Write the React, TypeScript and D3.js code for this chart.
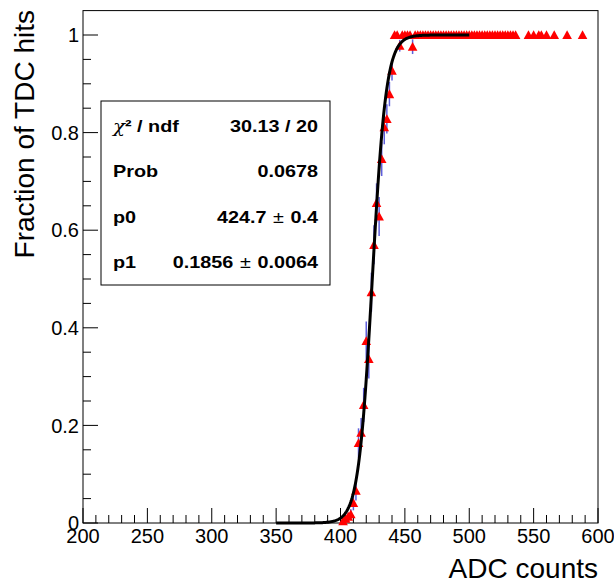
import React from "react";
import * as d3 from "d3";

// ---- data ----
const adcValues = [
  402, 404, 406, 408, 410, 412, 414, 416, 418, 420, 422, 424, 426, 428, 430, 432, 434, 436, 438, 440,
  442, 444, 446, 448, 450, 452, 454, 456, 458, 460, 462, 464, 466, 468, 470, 472, 474, 476, 478, 480,
  482, 484, 486, 488, 490, 492, 494, 496, 498, 500, 502, 504, 506, 508, 510, 512, 514, 516, 518, 520,
  522, 524, 526, 528, 530, 532, 534, 536, 546, 550, 554, 556, 560, 566, 576, 588,
];
const fraction = [
  0.004, 0.009, 0.013, 0.018, 0.041, 0.066, 0.164, 0.185, 0.242, 0.373, 0.336, 0.473, 0.57, 0.656, 0.628, 0.746, 0.811, 0.828, 0.879, 0.927,
  1, 1, 0.978, 1, 1, 1, 1, 0.976, 1, 1, 1, 1, 1, 1, 1, 1, 1, 1, 1, 1,
  1, 1, 1, 1, 1, 1, 1, 1, 1, 1, 1, 1, 1, 1, 1, 1, 1, 1, 1, 1,
  1, 1, 1, 1, 1, 1, 1, 1, 1, 1, 1, 1, 1, 1, 1, 1,
];
const fractionErr = [
  0.004, 0.006, 0.008, 0.01, 0.015, 0.02, 0.03, 0.03, 0.035, 0.04, 0.04, 0.04, 0.04, 0.04, 0.04, 0.035, 0.035, 0.03, 0.025, 0.02,
  0, 0, 0.012, 0, 0, 0, 0, 0.015, 0, 0, 0, 0, 0, 0, 0, 0, 0, 0, 0, 0,
  0, 0, 0, 0, 0, 0, 0, 0, 0, 0, 0, 0, 0, 0, 0, 0, 0, 0, 0, 0,
  0, 0, 0, 0, 0, 0, 0, 0, 0, 0, 0, 0, 0, 0, 0, 0,
];

// fit parameters
const p0 = 424.7;
const p1 = 0.1856;
const fitRange = [350, 500];

const xTickLabels = ["200", "250", "300", "350", "400", "450", "500", "550", "600"];
const yTickLabels = ["0", "0.2", "0.4", "0.6", "0.8", "1"];

const statsRows = [
  { label: "chi", value: "30.13 / 20" },
  { label: "Prob", value: "0.0678" },
  { label: "p0", value: "424.7", err: "0.4" },
  { label: "p1", value: "0.1856", err: "0.0064" },
];

export default function App() {
  const W = 614, H = 584;
  const left = 83, right = 598, bottom = 523;
  const yMax = 1.05;
  const x = d3.scaleLinear().domain([200, 600]).range([left, right]);
  const y = d3.scaleLinear().domain([0, yMax]).range([bottom, bottom - yMax * 488]);
  const top = y(yMax);

  const majorX = d3.range(200, 601, 50);
  const minorX = d3.range(200, 601, 10).filter((v) => v % 50 !== 0);
  const majorY = d3.range(0, 1.0001, 0.2);
  const minorY = d3.range(0, 1.05, 0.05).filter((v) => Math.abs(v / 0.2 - Math.round(v / 0.2)) > 1e-6);

  const fit = (v: number) => 1 / (1 + Math.exp(-p1 * (v - p0)));
  const fitPts = d3.range(fitRange[0], fitRange[1] + 0.001, 0.5);
  const fitPath = d3.line<number>().x((v) => x(v)).y((v) => y(fit(v)))(fitPts) || "";

  const tri = (cx: number, cy: number) => {
    const s = 4.8;
    return `M${cx},${cy - s} L${cx + s},${cy + s * 0.85} L${cx - s},${cy + s * 0.85} Z`;
  };

  const font = "'Liberation Sans', Arial, Helvetica, sans-serif";

  const boxX = 101, boxY = 101, boxW = 229, boxH = 184;
  const rowY = [131.5, 177, 222.5, 268];
  const sx = 1.2;

  return (
    <svg width={W} height={H} style={{ position: "absolute", left: 0, top: 0, background: "#fff" }}
      xmlns="http://www.w3.org/2000/svg">
      <rect x={0} y={0} width={W} height={H} fill="#fff" />
      {/* frame */}
      <rect x={left} y={top} width={right - left} height={bottom - top} fill="none" stroke="#000" strokeWidth={1} />

      {/* x ticks */}
      {majorX.map((v) => (
        <line key={"mx" + v} x1={x(v)} x2={x(v)} y1={bottom} y2={bottom - 15} stroke="#000" strokeWidth={1} />
      ))}
      {minorX.map((v) => (
        <line key={"nx" + v} x1={x(v)} x2={x(v)} y1={bottom} y2={bottom - 8} stroke="#000" strokeWidth={1} />
      ))}
      {majorX.map((v, i) => (
        <text key={"lx" + v} x={x(v)} y={543} fontFamily={font} fontSize={20} textAnchor="middle">
          {xTickLabels[i]}
        </text>
      ))}

      {/* y ticks */}
      {majorY.map((v) => (
        <line key={"my" + v} x1={left} x2={left + 15} y1={y(v)} y2={y(v)} stroke="#000" strokeWidth={1} />
      ))}
      {minorY.map((v) => (
        <line key={"ny" + v} x1={left} x2={left + 8} y1={y(v)} y2={y(v)} stroke="#000" strokeWidth={1} />
      ))}
      {majorY.map((v, i) => (
        <text key={"ly" + i} x={79} y={y(v)} dy="0.36em" fontFamily={font} fontSize={20} textAnchor="end">
          {yTickLabels[i]}
        </text>
      ))}

      {/* axis titles */}
      <text x={598} y={578} fontFamily={font} fontSize={28} textAnchor="end">ADC counts</text>
      <text transform="translate(34,10) rotate(-90)" fontFamily={font} fontSize={28} textAnchor="end">
        Fraction of TDC hits
      </text>

      {/* error bars */}
      {adcValues.map((v, i) =>
        fractionErr[i] > 0 ? (
          <line key={"e" + i} x1={x(v)} x2={x(v)} y1={y(Math.max(0, fraction[i] - fractionErr[i]))}
            y2={y(Math.min(1, fraction[i] + fractionErr[i]))} stroke="#2a2ad0" strokeWidth={1.5} strokeOpacity={0.75} />
        ) : null
      )}
      {/* markers */}
      {adcValues.map((v, i) => (
        <path key={"m" + i} d={tri(x(v), y(fraction[i]))} fill="#ff0000" />
      ))}

      {/* fit */}
      <path d={fitPath} fill="none" stroke="#000" strokeWidth={3} />

      {/* stats box */}
      <rect x={boxX} y={boxY} width={boxW} height={boxH} fill="#fff" stroke="#000" strokeWidth={1} />
      {statsRows.map((r, i) => (
        <g key={"s" + i}>
          <text transform={`translate(113,${rowY[i]}) scale(${sx},1)`} fontFamily={font} fontSize={16.5} fontWeight="bold">
            {r.label === "chi" ? (
              <>
                <tspan fontFamily="'DejaVu Serif', serif" fontWeight="normal" fontStyle="italic">χ</tspan>
                <tspan>² / ndf</tspan>
              </>
            ) : (
              r.label
            )}
          </text>
          <text transform={`translate(318,${rowY[i]}) scale(${sx},1)`} fontFamily={font} fontSize={16.5} fontWeight="bold" textAnchor="end">
            {r.err ? (
              <>
                <tspan>{r.value}</tspan>
                <tspan dx={5.5} fontWeight="normal">±</tspan>
                <tspan dx={5.5}>{r.err}</tspan>
              </>
            ) : (
              r.value
            )}
          </text>
        </g>
      ))}
    </svg>
  );
}
